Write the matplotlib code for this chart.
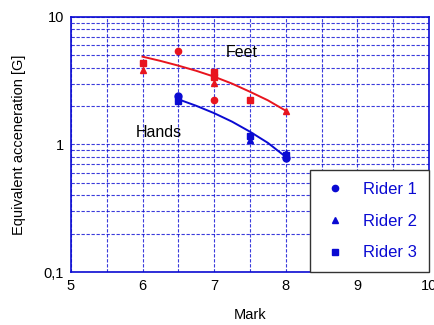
import numpy as np
import matplotlib.pyplot as plt
from matplotlib.lines import Line2D
from matplotlib.ticker import FixedLocator, NullFormatter

plt.rcParams['font.family'] = ['Liberation Sans', 'DejaVu Sans']

# Feet (red) measurements per rider
feet_r1_x = [6.5, 7]
feet_r1_y = [5.45, 2.23]
feet_r2_x = [6, 7, 8]
feet_r2_y = [3.84, 3.06, 1.83]
feet_r3_x = [6, 7, 7, 7.5]
feet_r3_y = [4.38, 3.72, 3.4, 2.23]
# Hands (blue) measurements per rider
hands_r1_x = [6.5, 8]
hands_r1_y = [2.40, 0.78]
hands_r2_x = [6.5, 7.5, 8]
hands_r2_y = [2.30, 1.08, 0.86]
hands_r3_x = [6.5, 7.5, 8]
hands_r3_y = [2.19, 1.17, 0.82]

# fitted trend curves
feet_fit_x = [6, 6.25, 6.5, 6.75, 7, 7.25, 7.5, 7.75, 8]
feet_fit_y = [4.88, 4.52, 4.15, 3.78, 3.40, 3.0, 2.59, 2.22, 1.84]
hands_fit_x = [6.5, 6.75, 7, 7.25, 7.5, 7.75, 8]
hands_fit_y = [2.26, 2.01, 1.76, 1.51, 1.26, 1.03, 0.80]

red = '#e8141e'
blue = '#0a0ad2'

fig = plt.figure(figsize=(4.35, 3.25), dpi=100)
ax = fig.add_axes([0.163, 0.163, 0.823, 0.785])

ax.plot(feet_fit_x, feet_fit_y, color=red, lw=1.4)
ax.plot(hands_fit_x, hands_fit_y, color=blue, lw=1.4)

ax.plot(feet_r1_x, feet_r1_y, 'o', color=red, ms=4.5, ls='none')
ax.plot(feet_r2_x, feet_r2_y, '^', color=red, ms=4.5, ls='none')
ax.plot(feet_r3_x, feet_r3_y, 's', color=red, ms=5, ls='none')
ax.plot(hands_r1_x, hands_r1_y, 'o', color=blue, ms=5, ls='none')
ax.plot(hands_r2_x, hands_r2_y, '^', color=blue, ms=5, ls='none')
ax.plot(hands_r3_x, hands_r3_y, 's', color=blue, ms=5, ls='none')

ax.set_yscale('log')
ax.set_xlim(5, 10)
ax.set_ylim(0.1, 10)
ax.set_yticks([0.1, 1, 10])
ax.set_yticklabels(['0,1', '1', '10'])
ax.yaxis.set_minor_formatter(NullFormatter())
ax.set_xticks([5, 6, 7, 8, 9, 10])
ax.xaxis.set_minor_locator(FixedLocator([5.5, 6.5, 7.5, 8.5, 9.5]))
ax.tick_params(which='both', length=0, labelsize=10.5, pad=5)
ax.grid(which='both', color=blue, ls=(0, (3, 1.5)), lw=0.8, alpha=0.8)

for s in ax.spines.values():
    s.set_color(blue)
    s.set_linewidth(1.2)

ax.set_xlabel('Mark', fontsize=10.5, labelpad=11)
ax.set_ylabel('Equivalent acceneration [G]', fontsize=10.5, labelpad=13)

ax.text(7.39, 5.3, 'Feet', fontsize=11.5, ha='center', va='center')
ax.text(6.23, 1.25, 'Hands', fontsize=11.5, ha='center', va='center')

handles = [Line2D([], [], marker='o', color=blue, ls='none', ms=4.5),
           Line2D([], [], marker='^', color=blue, ls='none', ms=4.5),
           Line2D([], [], marker='s', color=blue, ls='none', ms=4.5)]
leg = ax.legend(handles, ['Rider 1', 'Rider 2', 'Rider 3'], loc='lower right',
                bbox_to_anchor=(1, 0), borderaxespad=0, fancybox=False,
                framealpha=1, edgecolor='#333333', fontsize=12,
                labelspacing=1.0, handletextpad=0.9, borderpad=0.7,
                handlelength=1.6)
leg.get_frame().set_linewidth(1.0)
for t in leg.get_texts():
    t.set_color(blue)
leg.set_zorder(5)

fig.savefig('out.png', dpi=100)
